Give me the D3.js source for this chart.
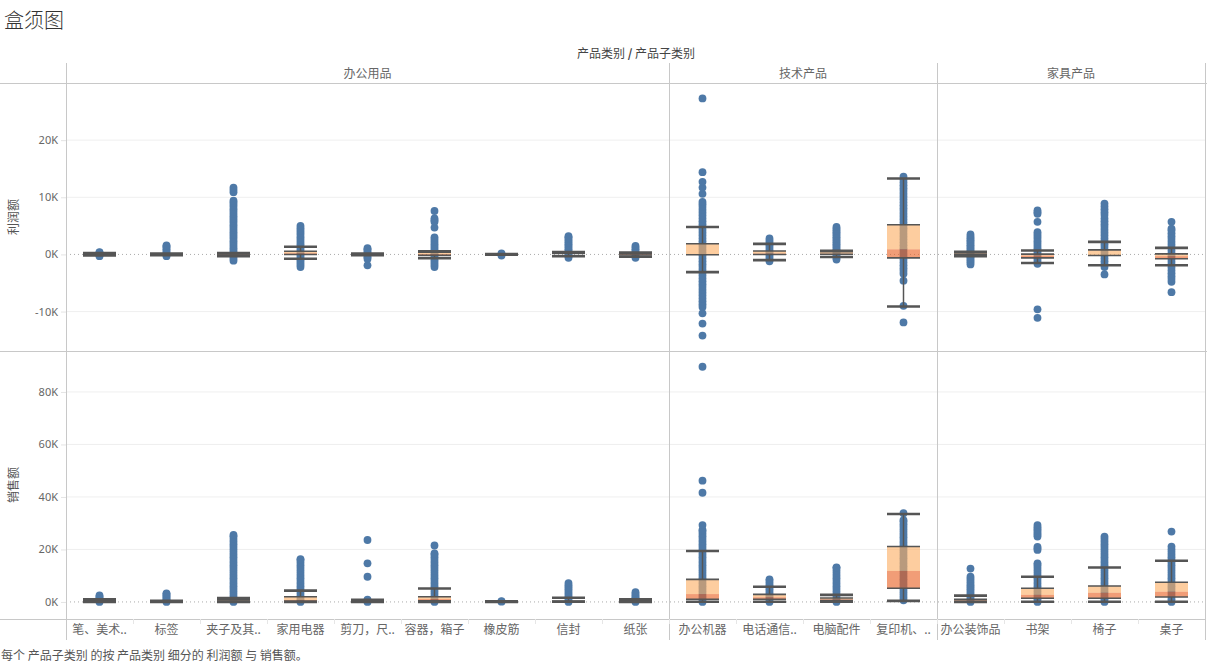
<!DOCTYPE html>
<html>
<head>
<meta charset="utf-8">
<script src="https://cdn.jsdelivr.net/npm/d3@7"></script>
<style>
  html, body { margin: 0; padding: 0; background: #fff; }
  svg { display: block; font-family: "Noto Sans CJK SC", "Noto Sans", sans-serif; }
</style>
</head>
<body>
<svg id="chart" width="1207" height="665"></svg>
<script>
// ---------------- DATA ----------------
const categories = ["办公用品", "技术产品", "家具产品"];
const subcategories = ["笔、美术用品", "标签", "夹子及其配件", "家用电器", "剪刀，尺子，锯", "容器，箱子", "橡皮筋", "信封", "纸张",
  "办公机器", "电话通信产品", "电脑配件", "复印机、传真机",
  "办公装饰品", "书架", "椅子", "桌子"];
const subLabels = ["笔、美术..", "标签", "夹子及其..", "家用电器", "剪刀，尺..", "容器，箱子", "橡皮筋", "信封", "纸张",
  "办公机器", "电话通信..", "电脑配件", "复印机、..",
  "办公装饰品", "书架", "椅子", "桌子"];
const subCategoryOf = ["办公用品","办公用品","办公用品","办公用品","办公用品","办公用品","办公用品","办公用品","办公用品",
  "技术产品","技术产品","技术产品","技术产品",
  "家具产品","家具产品","家具产品","家具产品"];

// profit points per sub-category (K)
const profitPoints = [
  [-0.3, -0.1, 0.1, 0.3, 0.4],
  [-0.3, 0, 0.3, 0.6, 0.9, 1.2, 1.4, 1.6],
  [-1.1, -0.7, -0.3, 0, 0.3, 0.7, 1.1, 1.5, 1.9, 2.3, 2.7, 3.1, 3.5, 3.9, 4.3, 4.7, 5.1, 5.5, 5.9, 6.3, 6.7, 7.1, 7.5, 7.9, 8.3, 8.7, 9.1, 9.4, 10.9, 11.3, 11.7],
  [-2.2, -1.8, -1.4, -1.0, -0.6, -0.2, 0.2, 0.6, 1.0, 1.4, 1.8, 2.2, 2.6, 3.0, 3.4, 3.8, 4.2, 4.6, 5.0],
  [-1.9, -0.8, -0.5, -0.2, 0, 0.3, 0.6, 0.9, 1.1],
  [-2.2, -1.8, -1.4, -1.0, -0.6, -0.2, 0.2, 0.6, 1.0, 1.4, 1.8, 2.2, 2.6, 3.0, 4.7, 5.7, 6.0, 6.3, 7.6],
  [-0.2, 0, 0.2],
  [-0.6, -0.3, 0, 0.3, 0.6, 0.9, 1.2, 1.5, 1.8, 2.1, 2.4, 2.7, 3.0, 3.2],
  [-0.6, -0.3, 0, 0.3, 0.6, 0.9, 1.2, 1.5],
  [-14.2, -12.1, -10.3, -9.2, -8.7, -8.2, -7.7, -7.2, -6.7, -6.2, -5.7, -5.2, -4.7, -4.2, -3.7, -3.2, -2.7, -2.2, -1.7, -1.2, -0.7, -0.2, 0.3, 0.8, 1.3, 1.8, 2.3, 2.8, 3.3, 3.8, 4.3, 4.8, 5.3, 5.8, 6.3, 6.8, 7.3, 7.8, 8.3, 8.8, 9.2, 10.6, 11.7, 12.7, 14.4, 27.3],
  [-1.2, -0.8, -0.4, 0, 0.4, 0.8, 1.2, 1.6, 2.0, 2.4, 2.8],
  [-0.9, -0.6, -0.3, 0, 0.3, 0.6, 0.9, 1.2, 1.5, 1.8, 2.1, 2.4, 2.7, 3.0, 3.3, 3.6, 3.9, 4.2, 4.5, 4.8],
  [-11.9, -9.0, -4.6, -3.4, -2.9, -2.4, -1.9, -1.4, -0.9, -0.4, 0.1, 0.6, 1.1, 1.6, 2.1, 2.6, 3.1, 3.6, 4.1, 4.6, 5.1, 5.6, 6.1, 6.6, 7.1, 7.6, 8.1, 8.6, 9.1, 9.6, 10.1, 10.6, 11.1, 11.6, 12.1, 12.6, 13.1, 13.6],
  [-1.75, -1.4, -1.1, -0.8, -0.5, -0.2, 0.1, 0.4, 0.7, 1.0, 1.3, 1.6, 1.9, 2.2, 2.5, 2.8, 3.1, 3.5],
  [-11.1, -9.6, -1.65, -1.3, -0.9, -0.5, -0.1, 0.3, 0.7, 1.1, 1.5, 1.9, 2.3, 2.7, 3.1, 3.5, 3.9, 5.7, 7.1, 7.4, 7.7],
  [-3.5, -2.2, -1.7, -1.2, -0.7, -0.2, 0.3, 0.8, 1.3, 1.8, 2.3, 2.8, 3.3, 3.8, 4.3, 4.8, 5.3, 5.8, 6.3, 6.9, 7.4, 7.9, 8.4, 8.9],
  [-6.6, -4.8, -4.3, -3.8, -3.3, -2.8, -2.3, -1.8, -1.3, -0.8, -0.3, 0.2, 0.7, 1.2, 1.7, 2.2, 2.7, 3.2, 3.7, 4.2, 4.5, 5.7]
];

// sales points per sub-category (K)
const salesPoints = [
  [0, 0.5, 1, 1.5, 2, 2.5],
  [0, 0.5, 1, 1.5, 2, 2.5, 3, 3.3],
  [0, 1, 2, 3, 4, 5, 6, 7, 8, 9, 10, 11, 12, 13, 14, 15, 16, 17, 18, 19, 20, 21, 22, 23, 24, 25, 25.5],
  [0, 1, 2, 3, 4, 5, 6, 7, 8, 9, 10, 11, 12, 13, 14, 15, 16, 16.3],
  [0, 0.3, 0.6, 0.9, 9.6, 14.7, 23.6],
  [0, 1, 2, 3, 4, 5, 6, 7, 8, 9, 10, 11, 12, 13, 14, 15, 16, 17, 18, 18.5, 21.5],
  [0.1, 0.3],
  [0, 0.8, 1.6, 2.4, 3.2, 4.0, 4.8, 5.6, 6.4, 7.2],
  [0, 0.6, 1.2, 1.8, 2.4, 3.0, 3.7],
  [0, 1, 2, 3, 4, 5, 6, 7, 8, 9, 10, 11, 12, 13, 14, 15, 16, 17, 18, 19, 20, 21, 22, 23, 24, 25, 26, 27, 27.4, 29.3, 41.6, 46.2, 89.6],
  [0, 0.8, 1.6, 2.4, 3.2, 4.0, 4.8, 5.6, 6.4, 7.2, 8.0, 8.6],
  [0, 1, 2, 3, 4, 5, 6, 7, 8, 9, 10, 11, 12, 13, 13.2],
  [0.6, 1.6, 2.6, 3.6, 4.6, 5.6, 6.6, 7.6, 8.6, 9.6, 10.6, 11.6, 12.6, 13.6, 14.6, 15.6, 16.6, 17.6, 18.6, 19.6, 20.6, 21.6, 22.6, 23.6, 24.6, 25.6, 26.6, 27.6, 28.6, 29.6, 30.6, 31.2, 33.8],
  [0, 0.8, 1.6, 2.4, 3.2, 4.0, 4.8, 5.6, 6.4, 7.2, 8.0, 8.8, 9.6, 12.7],
  [0, 1, 2, 3, 4, 5, 6, 7, 8, 9, 10, 11, 12, 13, 14, 14.7, 19.8, 20.4, 21.0, 24.9, 25.6, 26.3, 27.0, 27.7, 28.5, 29.3],
  [0, 1, 2, 3, 4, 5, 6, 7, 8, 9, 10, 11, 12, 13, 14, 15, 16, 17, 18, 19, 20, 21, 22, 23, 24, 24.9],
  [0, 1, 2, 3, 4, 5, 6, 7, 8, 9, 10, 11, 12, 13, 14, 15, 16, 17, 18, 19, 20, 21.1, 26.8]
];

// box statistics [lower whisker, q1, median, q3, upper whisker] (K)
const profitBox = [
  [-0.2, -0.05, 0.02, 0.1, 0.25],
  [-0.15, -0.02, 0.02, 0.08, 0.15],
  [-0.3, -0.15, 0, 0.1, 0.25],
  [-0.75, 0, 0.2, 0.55, 1.35],
  [-0.15, -0.03, 0.01, 0.06, 0.15],
  [-0.65, -0.15, 0.05, 0.4, 0.55],
  [-0.05, -0.02, 0, 0.02, 0.05],
  [-0.3, 0.2, 0.27, 0.33, 0.42],
  [-0.4, -0.1, 0.05, 0.15, 0.35],
  [-3.1, -0.05, 0.05, 1.87, 4.8],
  [-1.0, 0, 0.15, 0.6, 1.85],
  [-0.45, 0.02, 0.1, 0.5, 0.62],
  [-9.1, -0.6, 0.9, 5.2, 13.3],
  [-0.3, 0, 0.1, 0.3, 0.45],
  [-1.5, -0.6, -0.2, 0.05, 0.7],
  [-1.9, -0.2, -0.1, 0.8, 2.2],
  [-1.9, -0.75, -0.3, 0.1, 1.15]
];
const salesBox = [
  [0.02, 0.1, 0.25, 0.6, 1.0],
  [0.01, 0.05, 0.1, 0.2, 0.4],
  [0.01, 0.15, 0.35, 0.8, 1.5],
  [0.03, 0.25, 0.7, 2.0, 4.3],
  [0.02, 0.1, 0.2, 0.4, 0.8],
  [0.02, 0.4, 1.1, 2.0, 5.1],
  [0.02, 0.05, 0.08, 0.12, 0.2],
  [0.05, 0.1, 0.2, 0.35, 1.6],
  [0.02, 0.1, 0.25, 0.5, 1.0],
  [0.1, 1.0, 3.0, 8.6, 19.4],
  [0.1, 1.0, 1.8, 2.9, 5.8],
  [0.05, 0.5, 1.0, 1.5, 2.7],
  [0.4, 5.2, 11.8, 21.1, 33.5],
  [0.03, 0.15, 0.6, 1.0, 2.4],
  [0.05, 1.4, 2.7, 5.2, 9.6],
  [0.05, 1.4, 3.5, 6.1, 13.1],
  [0.05, 1.9, 3.9, 7.5, 15.7]
];

const profitTicks = [-10, 0, 10, 20];
const salesTicks = [0, 20, 40, 60, 80];
const measures = ["利润额", "销售额"];

// ---------------- LAYOUT ----------------
const svg = d3.select("#chart");
const left = 66, right = 1205;
const headTop = 63, headBottom = 83, midY = 351, paneBottom = 619, labelBottom = 640;
const gridColor = "#c8c8c8";

const x = d3.scaleBand().domain(subcategories).range([left, right]);
const yProfit = d3.scaleLinear().domain([-16.9, 30]).range([midY, headBottom]);
const ySales = d3.scaleLinear().domain([-6.5, 95.6]).range([paneBottom, midY]);

// title & headers
svg.append("text").attr("x", 4).attr("y", 28).attr("font-size", 20).attr("font-weight", 300).attr("fill", "#333").text("盒须图");
const hdr = svg.append("text").attr("x", 636).attr("y", 58).attr("text-anchor", "middle").attr("font-size", 12).attr("fill", "#444");
hdr.append("tspan").text("产品类别 ");
hdr.append("tspan").attr("font-weight", 700).text("/");
hdr.append("tspan").text(" 产品子类别");

// category header
categories.forEach(c => {
  const idx = subCategoryOf.map((d, i) => d === c ? i : -1).filter(i => i >= 0);
  const x0 = x(subcategories[idx[0]]);
  const x1 = x(subcategories[idx[idx.length - 1]]) + x.bandwidth();
  svg.append("text").attr("x", (x0 + x1) / 2).attr("y", 78).attr("text-anchor", "middle")
    .attr("font-size", 12).attr("fill", "#666").text(c);
});

// clip paths
const defs = svg.append("defs");
defs.append("clipPath").attr("id", "clipTop").append("rect").attr("x", left).attr("y", headBottom).attr("width", right - left).attr("height", midY - headBottom);
defs.append("clipPath").attr("id", "clipBot").append("rect").attr("x", left).attr("y", midY).attr("width", right - left).attr("height", paneBottom - midY);

function drawPane(yScale, ticks, points, boxes, clipId, title, top, bottom) {
  const g = svg.append("g");
  // gridlines
  g.selectAll(".grid").data(ticks.filter(t => t !== 0)).enter().append("line")
    .attr("x1", left).attr("x2", right).attr("y1", d => yScale(d)).attr("y2", d => yScale(d))
    .attr("stroke", "#efefef").attr("stroke-width", 1);
  // axis
  const axis = d3.axisLeft(yScale).tickValues(ticks).tickFormat(d => d + "K").tickSize(5).tickPadding(3);
  const ax = g.append("g").attr("transform", `translate(${left},0)`).call(axis);
  ax.select(".domain").remove();
  ax.selectAll(".tick line").attr("stroke", "#e4e4e4");
  ax.selectAll(".tick text").attr("fill", "#666").attr("font-size", 11).attr("font-family", "'Noto Sans', sans-serif");
  // zero line
  g.append("line").attr("x1", left).attr("x2", right).attr("y1", yScale(0)).attr("y2", yScale(0))
    .attr("stroke", "#aaa").attr("stroke-width", 1).attr("stroke-dasharray", "1,3");
  // axis title
  g.append("text").attr("transform", `translate(18,${(top + bottom) / 2}) rotate(-90)`)
    .attr("text-anchor", "middle").attr("font-size", 12).attr("fill", "#555").text(title);

  const plot = g.append("g").attr("clip-path", `url(#${clipId})`);
  const bw = 33;
  subcategories.forEach((s, i) => {
    const cx = x(s) + x.bandwidth() / 2;
    plot.append("g").selectAll("circle").data(points[i]).enter().append("circle")
      .attr("cx", cx).attr("cy", d => yScale(d)).attr("r", 3.9).attr("fill", "#4e79a7");
    const [wlo, q1, med, q3, whi] = boxes[i];
    const bg = plot.append("g");
    // whisker verticals
    bg.append("line").attr("x1", cx).attr("x2", cx).attr("y1", yScale(q3)).attr("y2", yScale(whi))
      .attr("stroke", "#555").attr("stroke-width", 1.5);
    bg.append("line").attr("x1", cx).attr("x2", cx).attr("y1", yScale(q1)).attr("y2", yScale(wlo))
      .attr("stroke", "#555").attr("stroke-width", 1.5);
    // box halves
    bg.append("rect").attr("x", cx - bw / 2).attr("width", bw)
      .attr("y", yScale(q3)).attr("height", Math.max(0, yScale(med) - yScale(q3)))
      .attr("fill", "#fcae64").attr("fill-opacity", 0.62);
    bg.append("rect").attr("x", cx - bw / 2).attr("width", bw)
      .attr("y", yScale(med)).attr("height", Math.max(0, yScale(q1) - yScale(med)))
      .attr("fill", "#e86123").attr("fill-opacity", 0.62);
    // box edges
    [q1, q3].forEach(v => bg.append("line").attr("x1", cx - bw / 2).attr("x2", cx + bw / 2)
      .attr("y1", yScale(v)).attr("y2", yScale(v)).attr("stroke", "#555").attr("stroke-width", 1.6));
    // whisker caps
    [wlo, whi].forEach(v => bg.append("line").attr("x1", cx - bw / 2).attr("x2", cx + bw / 2)
      .attr("y1", yScale(v)).attr("y2", yScale(v)).attr("stroke", "#555").attr("stroke-width", 2.6));
  });
}

drawPane(yProfit, profitTicks, profitPoints, profitBox, "clipTop", measures[0], headBottom, midY);
drawPane(ySales, salesTicks, salesPoints, salesBox, "clipBot", measures[1], midY, paneBottom);

// frame lines
const frame = svg.append("g").attr("stroke", gridColor).attr("stroke-width", 1).attr("shape-rendering", "crispEdges");
[headBottom, midY].forEach(yv => frame.append("line").attr("x1", 0).attr("x2", 1207).attr("y1", yv + 0.5).attr("y2", yv + 0.5));
frame.append("line").attr("x1", 0).attr("x2", right).attr("y1", paneBottom + 0.5).attr("y2", paneBottom + 0.5);
const catBounds = [left, x(subcategories[9]), x(subcategories[13]), right];
catBounds.forEach(xv => frame.append("line").attr("x1", xv + 0.5).attr("x2", xv + 0.5).attr("y1", headTop).attr("y2", labelBottom));

// bottom axis labels
const xAxis = d3.axisBottom(x).tickFormat((d, i) => subLabels[i]).tickSize(0).tickPadding(6);
const xa = svg.append("g").attr("transform", `translate(0,${paneBottom})`).call(xAxis);
xa.select(".domain").remove();
xa.selectAll(".tick text").attr("fill", "#666").attr("font-size", 12).attr("font-family", "'Noto Sans CJK SC', sans-serif");
// band separators
svg.append("g").selectAll("line").data(subcategories.slice(1)).enter().append("line")
  .attr("x1", d => x(d) + 0.5).attr("x2", d => x(d) + 0.5).attr("y1", paneBottom).attr("y2", paneBottom + 5)
  .attr("stroke", "#e6e6e6");

// footer
svg.append("text").attr("x", 1).attr("y", 660).attr("font-size", 12).attr("fill", "#555")
  .text("每个 产品子类别 的按 产品类别 细分的 利润额 与 销售额。");
</script>
</body>
</html>
